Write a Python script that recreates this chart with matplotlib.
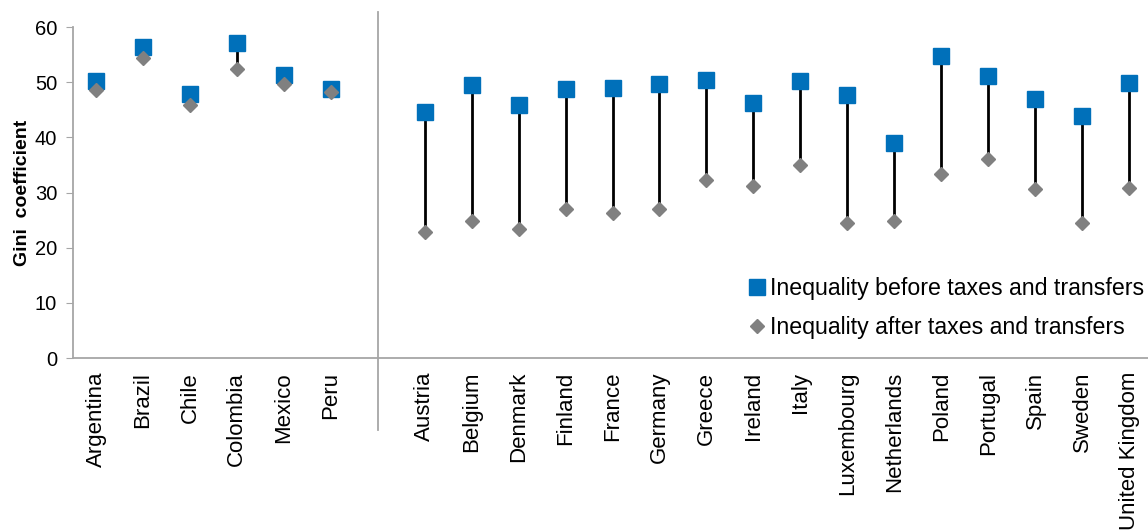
import matplotlib.pyplot as plt
import numpy as np

plt.rcParams['font.family'] = ['Liberation Sans', 'DejaVu Sans']

# Gini coefficients
countries = ['Argentina', 'Brazil', 'Chile', 'Colombia', 'Mexico', 'Peru', '',
             'Austria', 'Belgium', 'Denmark', 'Finland', 'France', 'Germany',
             'Greece', 'Ireland', 'Italy', 'Luxembourg', 'Netherlands', 'Poland',
             'Portugal', 'Spain', 'Sweden', 'United Kingdom']
before = [50.3, 56.4, 47.8, 57.1, 51.3, 48.8, np.nan,
          44.6, 49.4, 45.9, 48.8, 48.9, 49.7,
          50.4, 46.3, 50.2, 47.7, 39.0, 54.7,
          51.1, 46.9, 43.9, 49.8]
after = [48.5, 54.4, 45.9, 52.4, 49.6, 48.2, np.nan,
         22.8, 24.8, 23.4, 27.0, 26.2, 27.0,
         32.2, 31.1, 35.0, 24.4, 24.8, 33.4,
         36.1, 30.7, 24.4, 30.8]

x = np.arange(len(countries))
before = np.array(before)
after = np.array(after)

fig = plt.figure(figsize=(11.48, 5.31), dpi=100)
ax = fig.add_axes([72.5 / 1148, 173 / 531, 1080 / 1148, 331 / 531])

ok = ~np.isnan(before)
ax.vlines(x[ok], after[ok], before[ok], color='black', lw=2.0, zorder=2)
ax.plot(x[ok], before[ok], 's', color='#0070BA', ms=11, ls='none', zorder=3,
        label='Inequality before taxes and transfers')
ax.plot(x[ok], after[ok], 'D', color='#808080', ms=7, ls='none', zorder=4,
        label='Inequality after taxes and transfers')

# separator between Latin America and Europe
ax.plot([6, 6], [-13.1, 62.7], color='#A6A6A6', lw=1.3, clip_on=False, zorder=1)

ax.set_xlim(-0.5, 22.5)
ax.set_ylim(0, 60)
ax.set_yticks(range(0, 61, 10))
ax.set_xticks(x)
ax.set_xticklabels(countries, rotation=90, fontsize=16, va='top', ha='center')
ax.tick_params(axis='x', length=0, pad=10)
ax.tick_params(axis='y', length=5, color='#A6A6A6', labelsize=14.5, pad=6)

for s in ['top', 'right']:
    ax.spines[s].set_visible(False)
for s in ['left', 'bottom']:
    ax.spines[s].set_color('#A6A6A6')
    ax.spines[s].set_linewidth(1.3)

ax.set_ylabel('Gini  coefficient', fontsize=14, fontweight='bold', labelpad=3)

ax.legend(loc='center left', bbox_to_anchor=(748 / 1148, 1 - 308 / 531),
          bbox_transform=fig.transFigure, frameon=False, fontsize=16.7,
          handletextpad=0.16, handlelength=0.8, labelspacing=0.69,
          borderpad=0, borderaxespad=0)

fig.savefig('out.png', dpi=100)
